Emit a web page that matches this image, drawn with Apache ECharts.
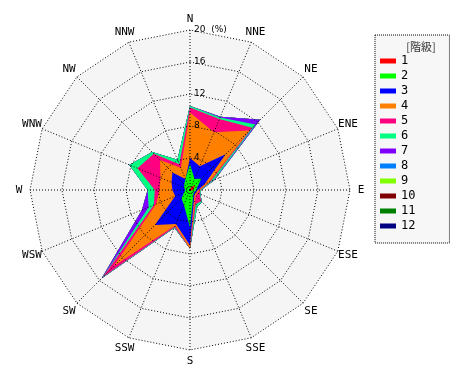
<!DOCTYPE html>
<html>
<head>
<meta charset="utf-8">
<script src="https://cdn.jsdelivr.net/npm/echarts@6/dist/echarts.min.js"></script>
<style>html,body{margin:0;padding:0;background:#fff}#c{width:470px;height:380px}</style>
</head>
<body>
<div id="c"></div>
<script>
// Directions clockwise from north
var directions = ['N','NNE','NE','ENE','E','ESE','SE','SSE','S','SSW','SW','WSW','W','WNW','NW','NNW'];
var classNames = ['1','2','3','4','5','6','7','8','9','10','11','12'];
var classColors = ['#ff0000','#00ff00','#0000ff','#ff8000','#ff0080','#00ff80','#8000ff','#0080ff','#80ff00','#800000','#008000','#000080'];
var tickLabels = [4, 8, 12, 16, 20];
// Frequency (%) of each class per direction (N ... NNW)
var class1  = [0.1,0.4,0.9,0.5,0.4,0.2,0.1,0.1,0.1,0.1,0.1,0.1,0.1,0.1,0.1,0.1];
var class2  = [3.1,1.1,1.1,0.5,0.4,0.4,0.5,0.9,4.6,1.9,1.4,0.7,0.5,0.7,0.9,1.4];
var class3  = [0.8,1.7,4.3,1.0,0.2,0.2,0.2,0.3,2.2,2.6,4.7,1.2,1.6,1.7,2.1,0.0];
var class4  = [5.7,4.6,4.2,0.6,0.2,0.2,0.2,0.3,0.4,0.2,7.3,2.6,1.6,1.5,2.2,1.5];
var class5  = [0.6,1.8,0.5,0.2,0.1,0.3,1.0,0.3,0.0,0.2,1.9,0.3,0.6,3.1,1.1,0.5];
var class6  = [0.2,0.2,0.6,0.4,0.1,0.1,0.1,0.4,0.0,0.1,0.1,0.7,0.9,1.1,0.3,0.6];
var class7  = [0.0,0.1,0.8,0.1,0.0,0.0,0.0,0.0,0.0,0.0,0.1,0.9,0.0,0.0,0.0,0.0];
var class8  = [0,0,0,0,0,0,0,0,0,0,0,0,0,0,0,0];
var class9  = [0,0,0,0,0,0,0,0,0,0,0,0,0,0,0,0];
var class10 = [0,0,0,0,0,0,0,0,0,0,0,0,0,0,0,0];
var class11 = [0,0,0,0,0,0,0,0,0,0,0,0,0,0,0,0];
var class12 = [0,0,0,0,0,0,0,0,0,0,0,0,0,0,0,0];
var classData = [class1,class2,class3,class4,class5,class6,class7,class8,class9,class10,class11,class12];

// radar draws indicators counter-clockwise: reorder to get clockwise compass
var order = [0];
for (var i = directions.length - 1; i >= 1; i--) order.push(i);

var FONT = 'DejaVu Sans Mono';
var DOT = [1, 2];
function makeIndicators(withLabel) {
  return order.map(function (d, k) {
    var ind = { name: directions[d], min: 0, max: 20 };
    if (withLabel && k === 0) {
      ind.axisLabel = {
        show: true, showMinLabel: false, color: '#000', fontSize: 9, fontFamily: 'DejaVu Sans',
        margin: -4, align: 'left', verticalAlign: 'middle', padding: [0, 0, 10, 0],
        formatter: function (v) { return v === 20 ? v + '  (%)' : (tickLabels.indexOf(v) >= 0 ? String(v) : ''); }
      };
    }
    return ind;
  });
}

// stacking (cumulative sums), outermost drawn first
var cum = [];
var run = directions.map(function () { return 0; });
classData.forEach(function (arr) {
  run = run.map(function (s, j) { return s + arr[j]; });
  cum.push(run.slice());
});
var dataItems = [];
for (var c = classData.length - 1; c >= 0; c--) {
  dataItems.push({
    name: classNames[c],
    value: order.map(function (d) { return +cum[c][d].toFixed(3); }),
    itemStyle: { color: classColors[c] },
    lineStyle: { width: 0, color: classColors[c] },
    areaStyle: { color: classColors[c], opacity: 1 },
    symbol: 'none'
  });
}

var chart = echarts.init(document.getElementById('c'), null, { renderer: 'canvas' });
chart.setOption({
  backgroundColor: '#ffffff',
  animation: false,
  title: {
    text: '[階級]', left: 416, top: 36, textAlign: 'center',
    textStyle: { fontSize: 11, fontWeight: 'normal', color: '#333', fontFamily: 'Noto Sans CJK JP' }
  },
  legend: {
    orient: 'vertical', left: 375, top: 35,
    data: classNames,
    icon: 'rect', itemWidth: 16, itemHeight: 5, itemGap: 3,
    padding: [20, 34, 11, 5],
    backgroundColor: '#f7f7f7', borderColor: '#000', borderWidth: 1, borderType: 'dotted',
    textStyle: { fontSize: 12, color: '#000', fontFamily: FONT },
    selectedMode: false
  },
  radar: [{
    // background + direction names
    z: 0,
    center: [190, 190], radius: 160, startAngle: 90, shape: 'polygon',
    splitNumber: 5,
    indicator: makeIndicators(false),
    nameGap: 11,
    axisName: { color: '#000', fontSize: 11, fontFamily: FONT, align: 'center', verticalAlign: 'middle', padding: [3, 0, 0, 0] },
    axisLine: { show: false },
    axisTick: { show: false },
    axisLabel: { show: false },
    splitLine: { show: false },
    splitArea: { show: true, areaStyle: { color: ['#f5f5f5'] } }
  }, {
    // data + grid rings on top
    z: 5,
    center: [190, 190], radius: 160, startAngle: 90, shape: 'polygon',
    splitNumber: 5,
    indicator: makeIndicators(true),
    axisName: { show: false },
    axisLine: { show: false },
    axisTick: { show: false },
    axisLabel: { show: false },
    splitLine: { lineStyle: { color: '#000', type: DOT, width: 1 } },
    splitArea: { show: false }
  }],
  polar: { center: [190, 190], radius: 160 },
  angleAxis: {
    type: 'category', data: directions, boundaryGap: false, startAngle: 90, clockwise: true, z: 5,
    axisLine: { show: false }, axisTick: { show: false }, axisLabel: { show: false },
    splitLine: { show: true, lineStyle: { color: '#000', type: DOT, width: 1 } }
  },
  radiusAxis: { show: false, min: 0, max: 20, splitLine: { show: false } },
  series: [{
    type: 'radar', radarIndex: 1, symbol: 'none', silent: true, z: 2,
    data: dataItems
  }]
});
</script>
</body>
</html>
